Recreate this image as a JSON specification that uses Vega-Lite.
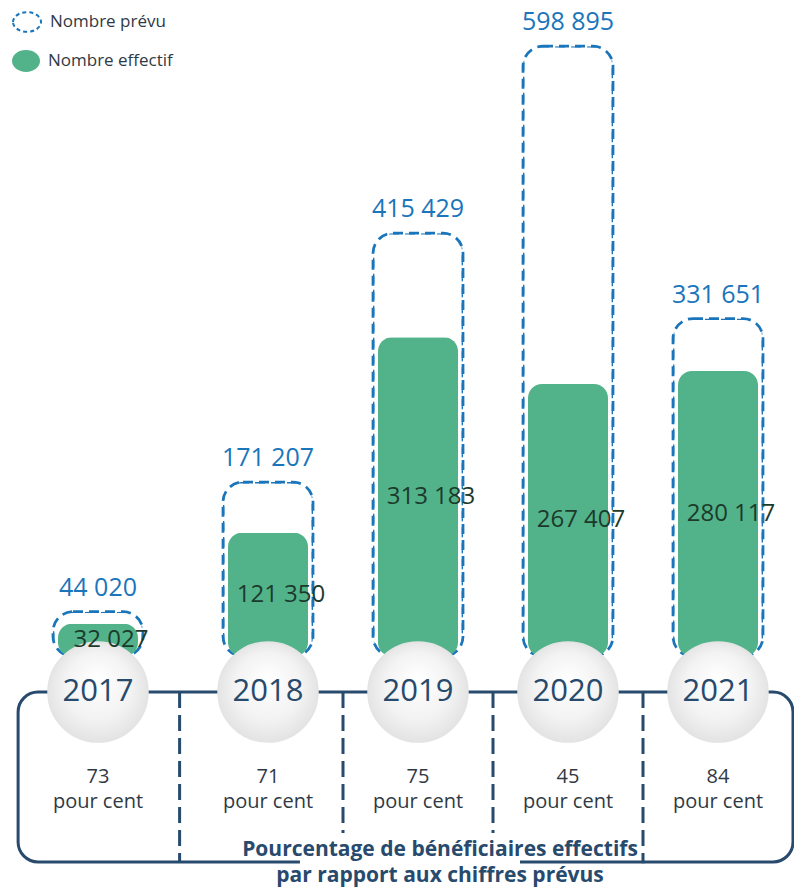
{
  "$schema": "https://vega.github.io/schema/vega-lite/v6.json",
  "width": 794,
  "height": 887,
  "padding": 0,
  "autosize": {"type": "none"},
  "config": {
    "view": {"stroke": null},
    "font": "Open Sans",
    "locale": {"number": {"decimal": ",", "thousands": " ", "grouping": [3], "currency": ["", " €"]}}
  },
  "data": {"values": [
    {"year": 2017, "prevu": 44020, "effectif": 32027, "pct": 73},
    {"year": 2018, "prevu": 171207, "effectif": 121350, "pct": 71},
    {"year": 2019, "prevu": 415429, "effectif": 313183, "pct": 75},
    {"year": 2020, "prevu": 598895, "effectif": 267407, "pct": 45},
    {"year": 2021, "prevu": 331651, "effectif": 280117, "pct": 84}
  ]},
  "resolve": {"scale": {"y": "independent"}},
  "layer": [
    {
      "layer": [
        {
          "data": {"values": [{}]},
          "mark": {"type": "rect", "fill": "transparent", "stroke": "#274a6d", "strokeWidth": 3, "cornerRadius": 20},
          "encoding": {
            "x": {"datum": 2016.53, "type": "quantitative", "axis": null, "scale": {"domain": [2017, 2018, 2021], "range": [98, 268, 718], "nice": false, "zero": false, "padding": 0}},
            "x2": {"datum": 2021.5},
            "y": {"datum": -34838, "type": "quantitative", "axis": null, "scale": {"domain": [-226201, 644256], "nice": false, "zero": false, "padding": 0}},
            "y2": {"datum": -201667}
          }
        },
        {
          "data": {"values": [{}]},
          "mark": {"type": "rule", "color": "white", "strokeWidth": 7},
          "encoding": {
            "x": {"datum": 2018.213, "type": "quantitative", "axis": null},
            "x2": {"datum": 2019.68},
            "y": {"datum": -201667, "type": "quantitative", "axis": null}
          }
        },
        {
          "data": {"values": [{}]},
          "mark": {"type": "rule", "color": "#274a6d", "strokeWidth": 3, "strokeDash": [16, 7]},
          "encoding": {
            "x": {"datum": 2017.48, "type": "quantitative", "axis": null},
            "y": {"datum": -34838, "type": "quantitative", "axis": null},
            "y2": {"datum": -201667}
          }
        },
        {
          "data": {"values": [{}]},
          "mark": {"type": "rule", "color": "#274a6d", "strokeWidth": 3, "strokeDash": [16, 7]},
          "encoding": {
            "x": {"datum": 2018.5, "type": "quantitative", "axis": null},
            "y": {"datum": -34838, "type": "quantitative", "axis": null},
            "y2": {"datum": -173208}
          }
        },
        {
          "data": {"values": [{}]},
          "mark": {"type": "rule", "color": "#274a6d", "strokeWidth": 3, "strokeDash": [16, 7]},
          "encoding": {
            "x": {"datum": 2019.5, "type": "quantitative", "axis": null},
            "y": {"datum": -34838, "type": "quantitative", "axis": null},
            "y2": {"datum": -173208}
          }
        },
        {
          "data": {"values": [{}]},
          "mark": {"type": "rule", "color": "#274a6d", "strokeWidth": 3, "strokeDash": [16, 7]},
          "encoding": {
            "x": {"datum": 2020.5, "type": "quantitative", "axis": null},
            "y": {"datum": -34838, "type": "quantitative", "axis": null},
            "y2": {"datum": -203000}
          }
        },
        {
          "mark": {"type": "bar", "orient": "vertical", "width": 90, "fill": "transparent", "strokeWidth": 2.75, "strokeDash": [10, 6], "cornerRadius": 20},
          "encoding": {
            "x": {"field": "year", "type": "quantitative", "axis": null},
            "y": {"field": "prevu", "type": "quantitative", "axis": null},
            "stroke": {
              "datum": "Nombre prévu", "type": "nominal",
              "scale": {"range": ["#1a75bb"]},
              "legend": {
                "orient": "none", "legendX": 12, "legendY": 7, "title": null,
                "symbolType": "M-1,0A1,0.7,0,1,1,1,0A1,0.7,0,1,1,-1,0Z",
                "symbolSize": 784, "symbolStrokeWidth": 2, "symbolDash": [4, 3],
                "labelFont": "Open Sans", "labelFontSize": 17, "labelColor": "#2f3a45", "labelOffset": 8,
                "encode": {"symbols": {"update": {"fill": {"value": "transparent"}, "strokeDash": {"value": [4, 3]}, "strokeWidth": {"value": 2}}}}
              }
            }
          }
        },
        {
          "mark": {"type": "bar", "orient": "vertical", "width": 80, "cornerRadius": 14},
          "encoding": {
            "x": {"field": "year", "type": "quantitative", "axis": null},
            "y": {"field": "effectif", "type": "quantitative", "axis": null},
            "fill": {
              "datum": "Nombre effectif", "type": "nominal",
              "scale": {"range": ["#52b38a"]},
              "legend": {
                "orient": "none", "legendX": 12, "legendY": 47, "title": null,
                "symbolType": "M-1,0A1,0.78,0,1,1,1,0A1,0.78,0,1,1,-1,0Z",
                "symbolSize": 784, "symbolStrokeWidth": 0,
                "labelFont": "Open Sans", "labelFontSize": 17, "labelColor": "#2f3a45", "labelOffset": 8
              }
            }
          }
        },
        {
          "mark": {
            "type": "point", "shape": "circle", "size": 10000, "filled": true, "opacity": 1,
            "fill": {"gradient": "radial", "x1": 0.5, "y1": 0.35, "r1": 0, "x2": 0.5, "y2": 0.5, "r2": 0.55,
              "stops": [{"offset": 0, "color": "#ffffff"}, {"offset": 0.6, "color": "#f3f3f3"}, {"offset": 1, "color": "#e0e0e0"}]},
            "stroke": "#e4e4e4", "strokeWidth": 1.5
          },
          "encoding": {
            "x": {"field": "year", "type": "quantitative", "axis": null},
            "y": {"datum": -34838, "type": "quantitative", "axis": null}
          }
        },
        {
          "mark": {"type": "text", "fontSize": 31, "color": "#274a6d", "baseline": "middle", "align": "center"},
          "encoding": {
            "x": {"field": "year", "type": "quantitative", "axis": null},
            "y": {"datum": -34838, "type": "quantitative", "axis": null},
            "text": {"field": "year", "type": "nominal"}
          }
        },
        {
          "mark": {"type": "text", "fontSize": 25, "color": "#1a75bb", "baseline": "middle", "align": "center", "dy": -24},
          "encoding": {
            "x": {"field": "year", "type": "quantitative", "axis": null},
            "y": {"field": "prevu", "type": "quantitative", "axis": null},
            "text": {"field": "prevu", "type": "quantitative", "format": ",d"}
          }
        },
        {
          "mark": {"type": "text", "fontSize": 20, "color": "#2f3a45", "baseline": "middle", "align": "center"},
          "encoding": {
            "x": {"field": "year", "type": "quantitative", "axis": null},
            "y": {"datum": -118270, "type": "quantitative", "axis": null},
            "text": {"field": "pct", "type": "nominal"}
          }
        },
        {
          "mark": {"type": "text", "fontSize": 20, "color": "#2f3a45", "baseline": "middle", "align": "center", "text": "pour cent"},
          "encoding": {
            "x": {"field": "year", "type": "quantitative", "axis": null},
            "y": {"datum": -142800, "type": "quantitative", "axis": null}
          }
        },
        {
          "data": {"values": [{}]},
          "mark": {"type": "text", "fontSize": 21, "fontWeight": "bold", "color": "#274a6d", "baseline": "middle", "align": "center", "lineHeight": 26,
            "text": ["Pourcentage de bénéficiaires effectifs", "par rapport aux chiffres prévus"]},
          "encoding": {
            "x": {"datum": 2019.147, "type": "quantitative", "axis": null},
            "y": {"datum": -189891, "type": "quantitative", "axis": null}
          }
        }
      ]
    },
    {
      "mark": {"type": "text", "fontSize": 24, "color": "#1c3a2b", "baseline": "middle", "align": "center", "dx": 13},
      "encoding": {
        "x": {"field": "year", "type": "quantitative", "axis": null},
        "y": {"field": "effectif", "type": "quantitative", "axis": null, "scale": {"domain": [-452402, 1288512], "nice": false, "zero": false}},
        "text": {"field": "effectif", "type": "quantitative", "format": ",d"}
      }
    }
  ]
}
